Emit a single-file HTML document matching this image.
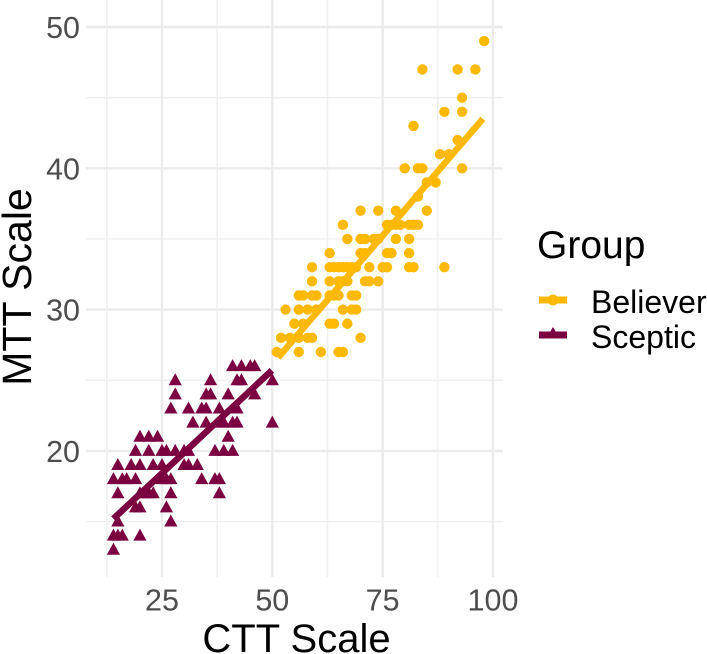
<!DOCTYPE html>
<html>
<head>
<meta charset="utf-8">
<style>
html,body{margin:0;padding:0;background:#fff;width:707px;height:654px;overflow:hidden}
svg{display:block}
text{font-family:"Liberation Sans",sans-serif}
</style>
</head>
<body>
<svg id="chart" width="707" height="654" viewBox="0 0 707 654" xmlns="http://www.w3.org/2000/svg">
<g id="grid"></g>
<g id="marks"></g>
<g id="ticks"></g>
<text x="296.5" y="652" font-size="40" text-anchor="middle" fill="#000">CTT Scale</text>
<text transform="translate(31,287) rotate(-90)" font-size="41" text-anchor="middle" fill="#000">MTT Scale</text>
<g>
<text x="537" y="258" font-size="39" fill="#000">Group</text>
<g>
<line x1="539" x2="567" y1="300" y2="300" stroke="#FFB900" stroke-width="7"/>
<circle cx="553" cy="300" r="5.5" fill="#FFB900"/>
<text x="591" y="313" font-size="32" fill="#000">Believer</text>
</g>
<g>
<line x1="539" x2="567" y1="335" y2="335" stroke="#7B0041" stroke-width="7"/>
<polygon points="553,327 559,337 547,337" fill="#7B0041"/>
<text x="591" y="348" font-size="32" fill="#000">Sceptic</text>
</g>
</g>
</svg>
<script>
var xTicks = [25, 50, 75, 100];
var xMinor = [12.5, 37.5, 62.5, 87.5];
var yTicks = [20, 30, 40, 50];
var yMinor = [15, 25, 35, 45];

var believerX = [98, 84,92,96, 93, 89,93, 82, 92, 88,90, 80,83,84,93, 85,87, 83,
  70,74,78,85, 66,76,77,78,79,81,82,83, 67,70,71,73,74,78,81, 63,70,71,76,77,81,
  59,63,64,65,66,67,68,69,72,75,76,81,82,89, 59,63,65,66,67,71,72,74,
  56,57,59,60,63,64,65,68,69, 53,56,58,60,66,68,69, 55,57,63,64,67,
  52,54,56,58,59,70, 51,56,61,65,66];
var believerY = [49, 47,47,47, 45, 44,44, 43, 42, 41,41, 40,40,40,40, 39,39, 38,
  37,37,37,37, 36,36,36,36,36,36,36,36, 35,35,35,35,35,35,35, 34,34,34,34,34,34,
  33,33,33,33,33,33,33,33,33,33,33,33,33,33, 32,32,32,32,32,32,32,32,
  31,31,31,31,31,31,31,31,31, 30,30,30,30,30,30,30, 29,29,29,29,29,
  28,28,28,28,28,28, 27,27,27,27,27];

var scepticX = [41,43,45,46, 28,36,42,43,50, 28,35,36,40,46, 27,31,34,35,38,42,
  32,35,38,39,41,42,50, 20,22,24,40, 19,22,25,26,28,30,31,37,39,41,
  15,18,20,23,25,30,31,33, 14,16,17,19,25,26,27,34,37,38,
  15,20,21,22,23,27,38, 19,20,26, 15,27, 14,15,16,20, 14];
var scepticY = [26,26,26,26, 25,25,25,25,25, 24,24,24,24,24, 23,23,23,23,23,23,
  22,22,22,22,22,22,22, 21,21,21,21, 20,20,20,20,20,20,20,20,20,20,
  19,19,19,19,19,19,19,19, 18,18,18,18,18,18,18,18,18,18,
  17,17,17,17,17,17,17, 16,16,16, 15,15, 14,14,14,14, 13];

var believerLineX = [51.3, 97.7];
var believerLineY = [26.6, 43.5];
var scepticLineX = [14, 49.9];
var scepticLineY = [15.2, 25.7];

var NS = 'http://www.w3.org/2000/svg';
var GOLD = '#FFB900', MAROON = '#7B0041';
function sx(v){ return 162 + (v - 25) * 4.413; }
function sy(v){ return 27 + (50 - v) * 14.13; }
function mk(tag, parent, attrs){
  var e = document.createElementNS(NS, tag);
  for (var k in attrs) e.setAttribute(k, attrs[k]);
  parent.appendChild(e);
  return e;
}
var grid = document.getElementById('grid');
var marks = document.getElementById('marks');
var ticks = document.getElementById('ticks');
var L = 86, R = 503, T = 0, B = 577;

yMinor.forEach(function(v){
  var l = mk('line', grid, {x1:L, x2:R, y1:sy(v), y2:sy(v), stroke:'#efefef', 'stroke-width':1.4});
  
  
});
xMinor.forEach(function(v){
  var l = mk('line', grid, {x1:sx(v), x2:sx(v), y1:T, y2:B, stroke:'#efefef', 'stroke-width':1.4});
  
  
});
yTicks.forEach(function(v){
  var l = mk('line', grid, {x1:L, x2:R, y1:sy(v), y2:sy(v), stroke:'#ebebeb', 'stroke-width':2.4});
  
  
  var t = mk('text', ticks, {x:80, y:sy(v) + 11, 'font-size':30.5, 'text-anchor':'end', fill:'#4d4d4d'});
  t.textContent = v;
  
  
});
xTicks.forEach(function(v){
  var l = mk('line', grid, {x1:sx(v), x2:sx(v), y1:T, y2:B, stroke:'#ebebeb', 'stroke-width':2.4});
  
  
  var t = mk('text', ticks, {x:sx(v), y:610.5, 'font-size':30.5, 'text-anchor':'middle', fill:'#4d4d4d'});
  t.textContent = v;
  
  
});

scepticX.forEach(function(v, i){
  var cx = sx(v), cy = sy(scepticY[i]);
  var p = mk('polygon', marks, {points:(cx)+','+(cy-7)+' '+(cx+6.6)+','+(cy+5)+' '+(cx-6.6)+','+(cy+5), fill:MAROON});
  
  
});
var sl = mk('line', marks, {x1:sx(scepticLineX[0]), y1:sy(scepticLineY[0]), x2:sx(scepticLineX[1]), y2:sy(scepticLineY[1]), stroke:MAROON, 'stroke-width':6.5});



believerX.forEach(function(v, i){
  var c = mk('circle', marks, {cx:sx(v), cy:sy(believerY[i]), r:5.2, fill:GOLD});
  
  
});
var bl = mk('line', marks, {x1:sx(believerLineX[0]), y1:sy(believerLineY[0]), x2:sx(believerLineX[1]), y2:sy(believerLineY[1]), stroke:GOLD, 'stroke-width':6.5});


</script>
</body>
</html>
